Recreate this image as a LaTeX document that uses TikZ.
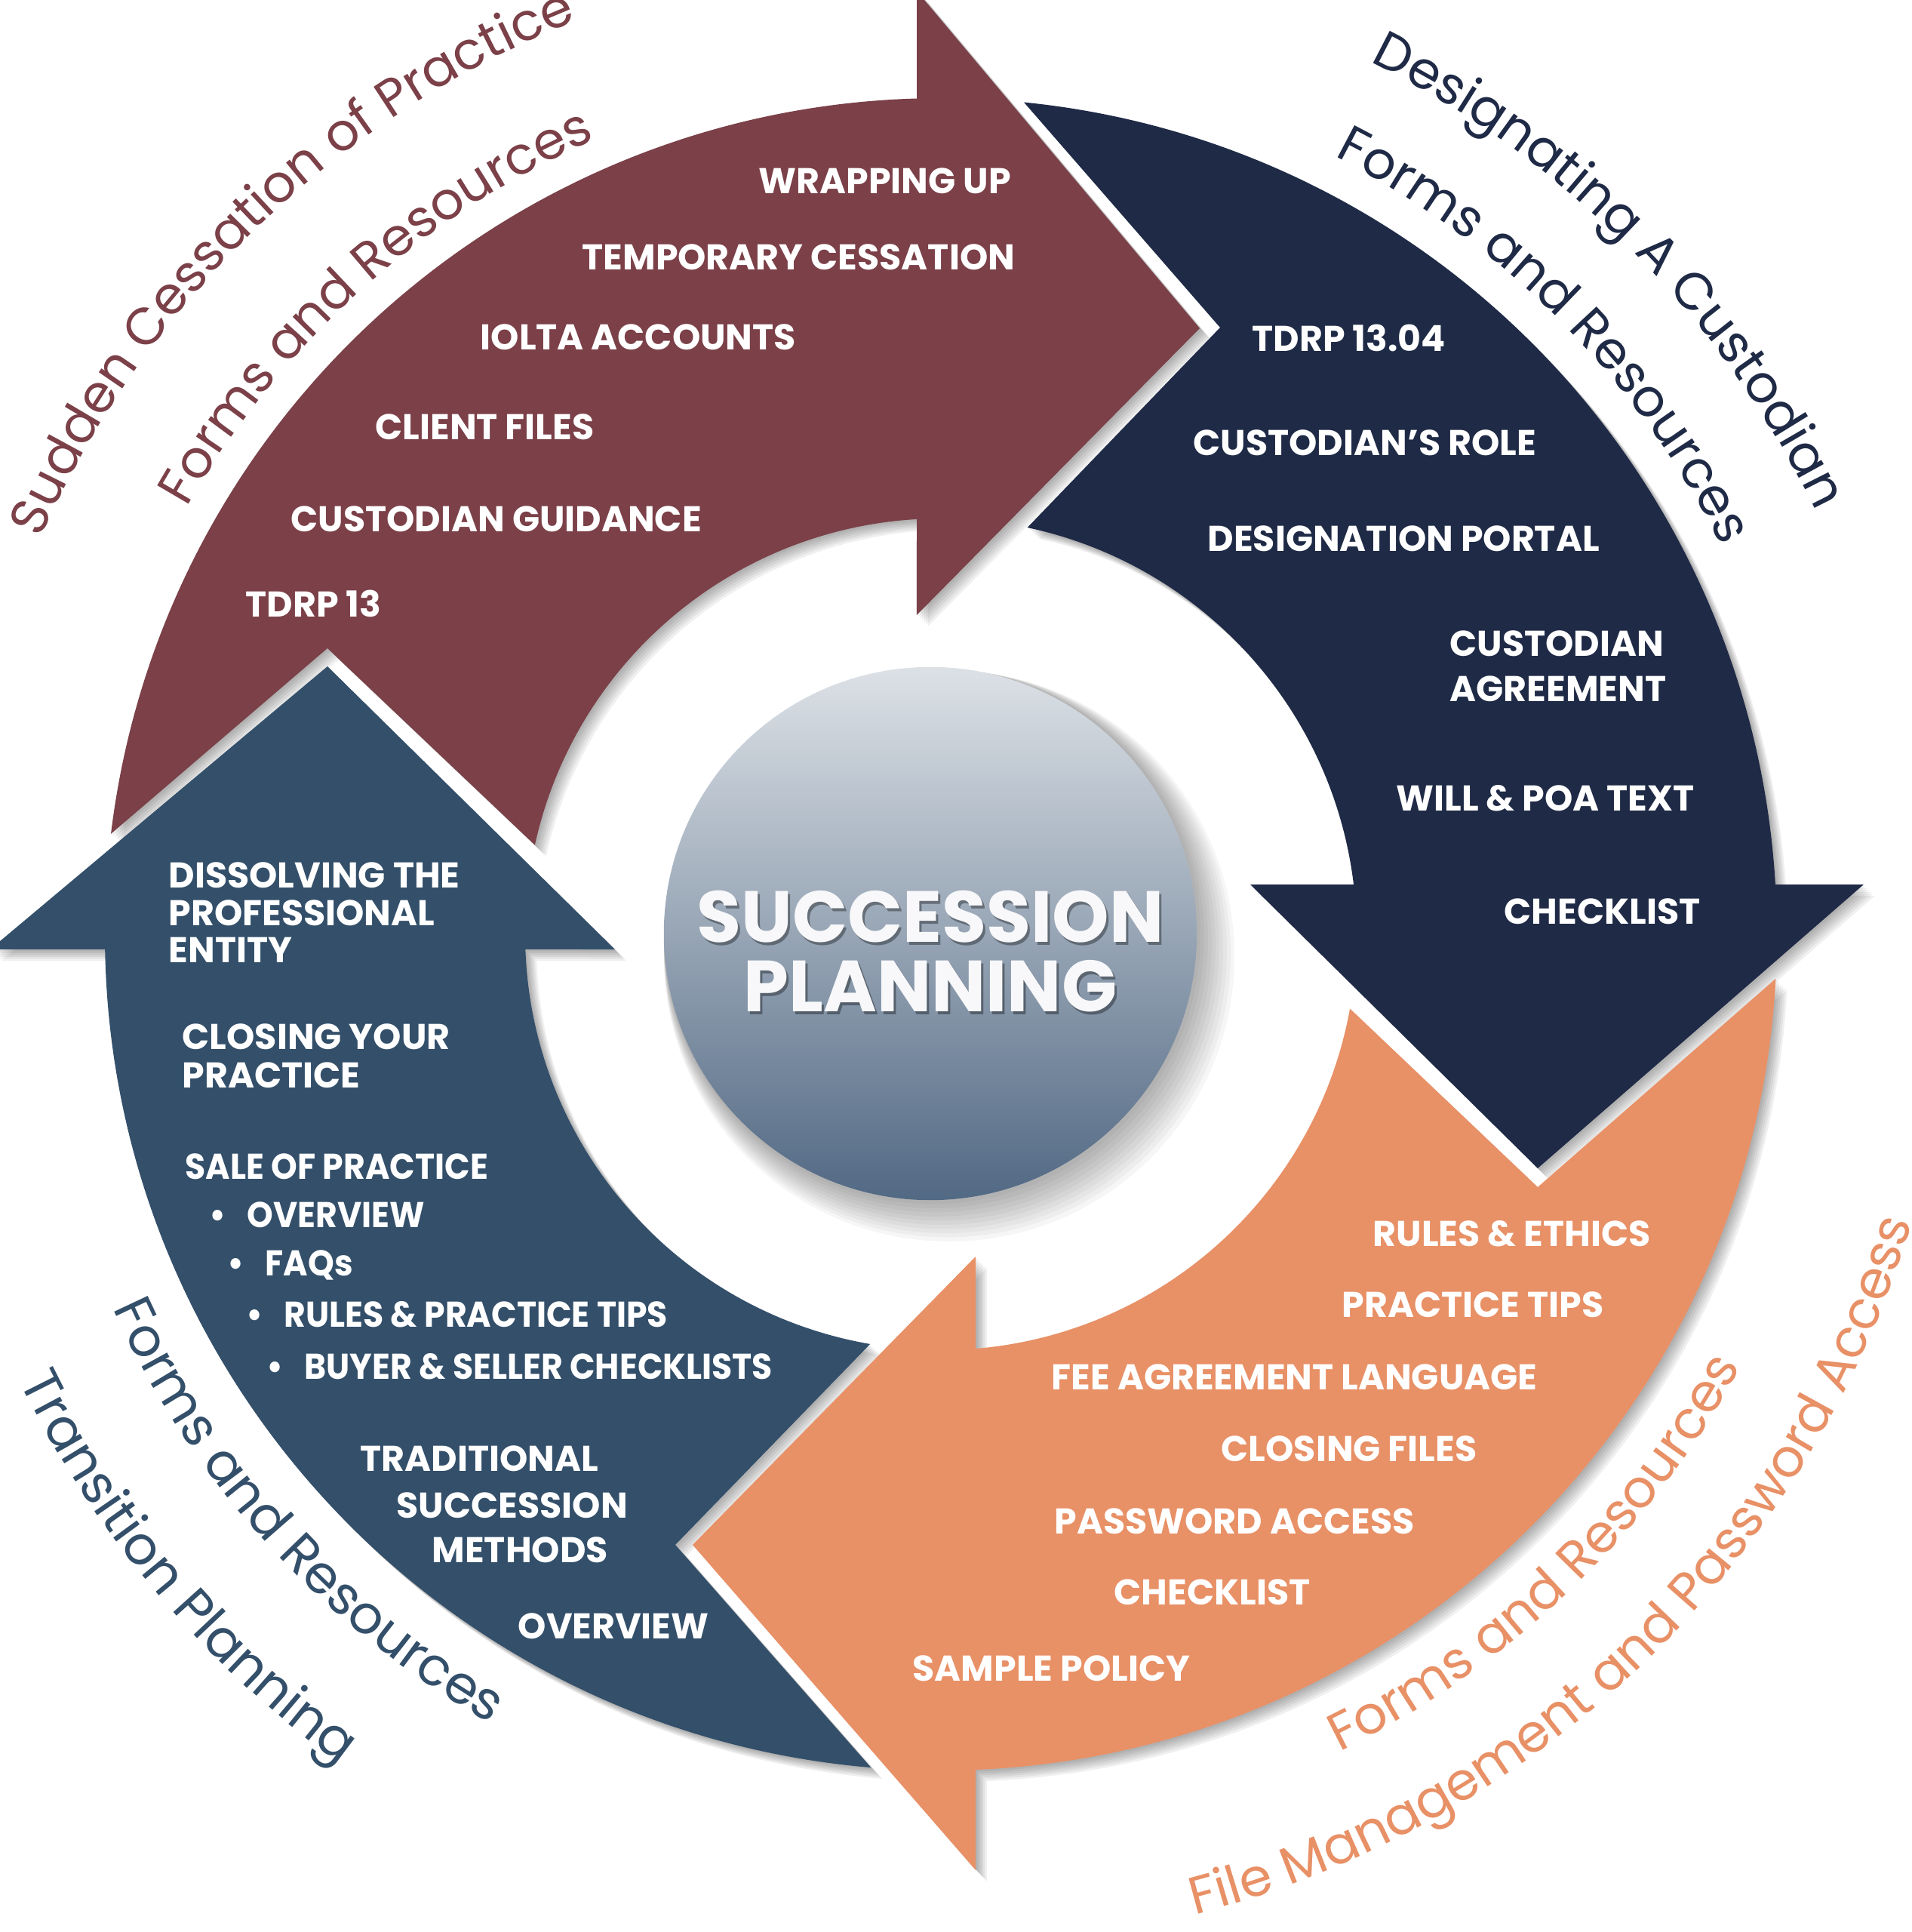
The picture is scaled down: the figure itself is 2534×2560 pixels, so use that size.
\documentclass[tikz,border=0pt]{standalone}
\usepackage{fontspec}
\setmainfont{Poppins}
\newfontfamily\curvefont{Poppins}
\usetikzlibrary{decorations.text}
\definecolor{cRed}{RGB}{123,64,72}
\definecolor{cNavy}{RGB}{31,42,70}
\definecolor{cOrange}{RGB}{232,144,102}
\definecolor{cBlue}{RGB}{51,79,106}
\definecolor{cTop}{RGB}{220,225,230}
\definecolor{cBot}{RGB}{82,105,132}
\definecolor{cTitle}{RGB}{248,248,250}
% arrow outlines (centre of ring at origin, 1 unit = 1 px)
\def\redA{(173.1:1108) arc[start angle=173.1, end angle=91.65, radius=1108] -- (-32,1250) -- (343,803) -- (-32,423) -- (93.33:551) arc[start angle=93.33, end angle=167.6, radius=551] -- (-813,379) -- cycle}
\def\navyA{(84.3:1108) arc[start angle=84.3, end angle=3.41, radius=1108] -- (1223,66) -- (791,-310) -- (410,66) -- (6.88:551) arc[start angle=6.88, end angle=78, radius=551] -- (370,804) -- cycle}
\def\orangeA{(-3.04:1108) arc[start angle=-3.04, end angle=-87.62, radius=1108] -- (46,-1240) -- (-329,-809) -- (46,-427) -- (-85.21:551) arc[start angle=-85.21, end angle=-10.3, radius=551] -- (791,-335) -- cycle}
\def\blueA{(265.2:1108) arc[start angle=265.2, end angle=181.03, radius=1108] -- (-1260,-20) -- (-813,355) -- (-432,-20) -- (182.08:551) arc[start angle=182.08, end angle=260.2, radius=551] -- (-352,-809) -- cycle}
\newcommand\softshadow[1]{\foreach \k in {1,...,6}{\fill[black, opacity=0.06, shift={(2.5*\k,-2.5*\k)}] #1;}}
\newcommand\cvRed{\curvefont\fontsize{19.6}{22}\selectfont\color{cRed}}
\newcommand\cvNavy{\curvefont\fontsize{19.6}{22}\selectfont\color{cNavy}}
\newcommand\cvOrange{\curvefont\fontsize{19.8}{22}\selectfont\color{cOrange}}
\newcommand\cvBlue{\curvefont\fontsize{20}{22}\selectfont\color{cBlue}}
\newcommand\bul{\makebox[14.2pt][l]{\textbullet}}
\begin{document}
\begin{tikzpicture}[x=0.01cm,y=0.01cm,
  lab/.style={text=white, font=\bfseries\fontsize{13.5}{15}\selectfont, anchor=base west, inner sep=0pt},
  labn/.style={lab, font=\bfseries\fontsize{13.5}{15}\selectfont\addfontfeatures{FakeStretch=0.93}},
  ttl/.style={text=cTitle, font=\bfseries\fontsize{27.3}{30}\selectfont, anchor=base, inner sep=0pt},
  ttlsh/.style={text=black, opacity=0.35, font=\bfseries\fontsize{27.3}{30}\selectfont, anchor=base, inner sep=0pt}]
\useasboundingbox (-1247,-1322) rectangle (1287,1238);
% shadows of the arrows
\softshadow{\redA}
\softshadow{\navyA}
\softshadow{\orangeA}
\softshadow{\blueA}
% arrows
\fill[cRed] \redA;
\fill[cNavy] \navyA;
\fill[cOrange] \orangeA;
\fill[cBlue] \blueA;
% hub shadow and hub
\foreach \k in {1,...,10}{\fill[black, opacity=0.035] (-14+2.5*\k,1-3*\k) circle[radius=353+2.5*\k];}
\node[circle, minimum size=7.06cm, inner sep=0pt, top color=cTop, bottom color=cBot] (hub) at (-14,1) {};
\node[ttlsh] (t1s) at (-11,-14) {SUCCESSION};
\node[ttlsh] (t2s) at (-11,-106) {PLANNING};
\node[ttl] (t1) at (-14,-10) {SUCCESSION};
\node[ttl] (t2) at (-14,-102) {PLANNING};
% red labels
\node[lab] (r1) at (-242,981) {WRAPPING UP};
\node[lab] (r2) at (-476,880) {TEMPORARY CESSATION};
\node[lab] (r3) at (-611,774) {IOLTA ACCOUNTS};
\node[lab] (r4) at (-750,655) {CLIENT FILES};
\node[lab] (r5) at (-862,533) {CUSTODIAN GUIDANCE};
\node[lab] (r6) at (-922,420) {TDRP 13};
% navy labels
\node[lab] (n1) at (412,772) {TDRP 13.04};
\node[lab] (n2) at (334,634) {CUSTODIAN’S ROLE};
\node[lab] (n3) at (353,507) {DESIGNATION PORTAL};
\node[lab] (n4a) at (674,368) {CUSTODIAN};
\node[lab] (n4b) at (674,308) {AGREEMENT};
\node[lab] (n5) at (603,163) {WILL \& POA TEXT};
\node[lab] (n6) at (746,14) {CHECKLIST};
% orange labels
\node[lab] (o1) at (572,-413) {RULES \& ETHICS};
\node[lab] (o2) at (531,-507) {PRACTICE TIPS};
\node[lab] (o3) at (146,-603) {FEE AGREEMENT LANGUAGE};
\node[lab] (o4) at (371,-698) {CLOSING FILES};
\node[lab] (o5) at (150,-794) {PASSWORD ACCESS};
\node[lab] (o6) at (229,-888) {CHECKLIST};
\node[lab] (o7) at (-38,-989) {SAMPLE POLICY};
% blue labels
\node[lab] (b1a) at (-1024,61) {DISSOLVING THE};
\node[lab] (b1b) at (-1024,12) {PROFESSIONAL};
\node[lab] (b1c) at (-1024,-37) {ENTITY};
\node[lab] (b2a) at (-1006,-152) {CLOSING YOUR};
\node[lab] (b2b) at (-1006,-203) {PRACTICE};
\node[labn] (b3) at (-1002,-324) {SALE OF PRACTICE};
\node[labn] (b4) at (-970,-388) {\bul OVERVIEW};
\node[labn] (b5) at (-946,-452) {\bul FAQs};
\node[labn] (b6) at (-921,-520) {\bul RULES \& PRACTICE TIPS};
\node[labn] (b7) at (-894,-589) {\bul BUYER \& SELLER CHECKLISTS};
\node[lab] (b8a) at (-770,-711) {TRADITIONAL};
\node[lab] (b8b) at (-722,-773) {SUCCESSION};
\node[lab] (b8c) at (-675,-832) {METHODS};
\node[lab] (b9) at (-561,-933) {OVERVIEW};
% curved captions
\path[decorate, decoration={text along path, text align=center, text={|\cvRed|Sudden Cessation of Practice}}]
  (178.5:1303) arc[start angle=178.5, end angle=89.5, radius=1303];
\path[decorate, decoration={text along path, text align=center, text={|\cvRed|Forms and Resources}}]
  (177:1148) arc[start angle=177, end angle=87, radius=1148];
\path[decorate, decoration={text along path, text align=center, text={|\cvNavy|Designating A Custodian}}]
  (89.8:1288) arc[start angle=89.8, end angle=-0.2, radius=1288];
\path[decorate, decoration={text along path, text align=center, text={|\cvNavy|Forms and Resources}}]
  (89.8:1155) arc[start angle=89.8, end angle=-0.2, radius=1155];
\path[decorate, decoration={text along path, text align=center, text={|\cvOrange|Forms and Resources}}]
  (-91.2:1205) arc[start angle=-91.2, end angle=-1.2, radius=1205];
\path[decorate, decoration={text along path, text align=center, text={|\cvOrange|File Management and Password Access}}]
  (-93:1342) arc[start angle=-93, end angle=1, radius=1342];
\path[decorate, decoration={text along path, text align=center, text={|\cvBlue|Forms and Resources}}]
  (177.3:1204) arc[start angle=177.3, end angle=267.3, radius=1204];
\path[decorate, decoration={text along path, text align=center, text={|\cvBlue|Transition Planning}}]
  (175:1357) arc[start angle=175, end angle=265, radius=1357];
\end{tikzpicture}
\end{document}
